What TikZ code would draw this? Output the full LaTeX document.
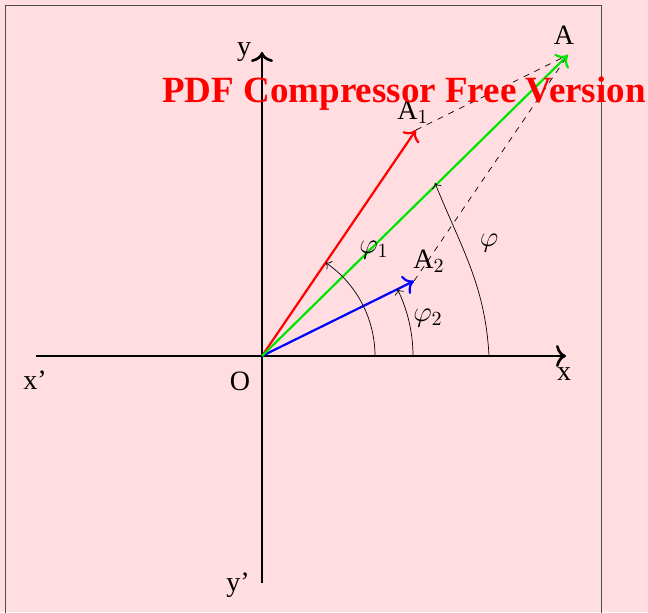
\documentclass[tikz,border=0pt]{standalone}
\usepackage{fontspec}
\setmainfont{Liberation Serif}
\usepackage{tikz}
\usetikzlibrary{arrows.meta,positioning}
\usepackage{xcolor}
\definecolor{bgpink}{RGB}{255,221,224}
\definecolor{vgreen}{RGB}{0,230,0}

\begin{document}
\begin{tikzpicture}[
  x=0.5pt, y=0.5pt,
  font=\fontsize{14}{16}\selectfont,
  axis/.style={line width=1.3pt, -{To[length=5pt,width=11pt]}},
  vec/.style={line width=1.1pt, -{To[length=5pt,width=10pt]}},
  ang/.style={line width=0.35pt, -{To[length=2.5pt,width=5pt]}},
  aux/.style={line width=0.35pt, dashed},
  lbl/.style={inner sep=0pt}
]
\useasboundingbox (0,0) rectangle (648,612);
\fill[bgpink] (0,0) rectangle (648,612);
\draw[line width=0.5pt, black!70] (5,-10) rectangle (601,606);

\coordinate (O) at (262,256);
\coordinate (xl) at (36,256);
\coordinate (xr) at (566,256);
\coordinate (yt) at (262,560);
\coordinate (yb) at (262,29);
\coordinate (A) at (568,557);
\coordinate (A1) at (416,482);
\coordinate (A2) at (414,331);

% axes
\draw[axis] (xl) -- (xr);
\draw[axis] (yb) -- (yt);

% dashed construction
\draw[aux] (A1) -- (A);
\draw[aux] (A2) -- (A);

% vectors
\draw[vec, red] (O) -- (A1);
\draw[vec, blue] (O) -- (A2);
\draw[vec, vgreen] (O) -- (A);

% angles
\draw[ang] (O) ++(113,0) arc[start angle=0, end angle=55.7, radius=113];
\draw[ang] (O) ++(151,0) arc[start angle=0, end angle=26.3, radius=151];
\coordinate (p0) at (489,256);
\coordinate (p1) at (435,429);
\draw[ang] (p0) to[out=93, in=-68] (p1);

% labels
\node[lbl] (lx) at (564,238) {x};
\node[lbl] (lxp) at (35,232) {x’};
\node[lbl] (ly) at (244,560) {y};
\node[lbl] (lyp) at (238,27) {y’};
\node[lbl] (lO) at (240,231) {O};
\node[lbl] (lA) at (564,577) {A};
\node[lbl] (lA1) at (413,500) {A$_1$};
\node[lbl] (lA2) at (429,351) {A$_2$};
\node[lbl] (lphi1) at (374,362) {$\varphi_1$};
\node[lbl] (lphi2) at (428,294) {$\varphi_2$};
\node[lbl] (lphi) at (489,369) {$\varphi$};

\node[lbl, text=red, font=\fontsize{18.5}{20}\selectfont\bfseries] (wm) at (404,518) {PDF Compressor Free Version};
\end{tikzpicture}
\end{document}
